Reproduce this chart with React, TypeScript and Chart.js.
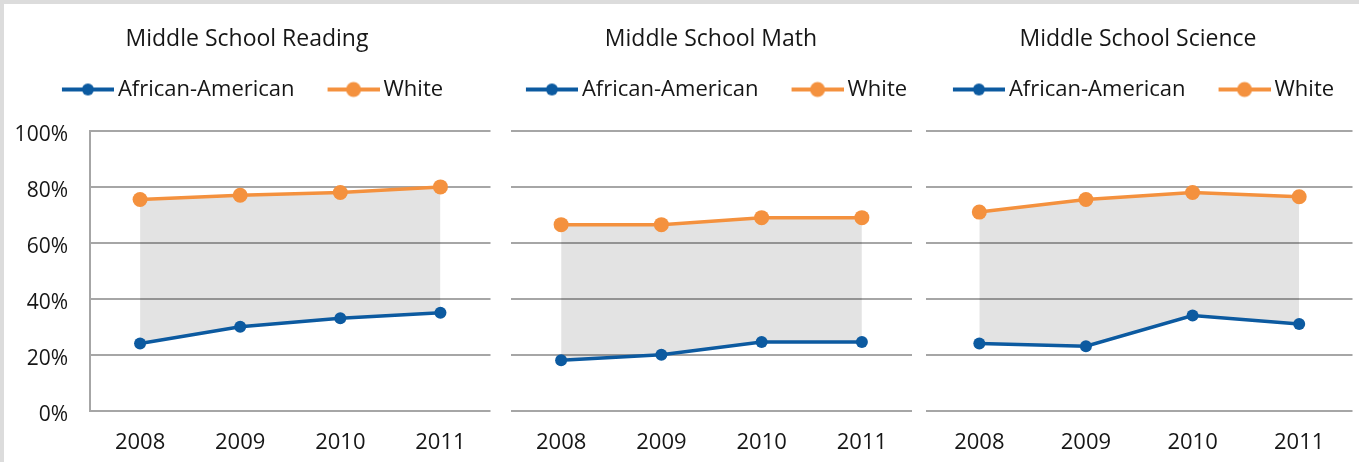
import React, { useEffect, useRef } from 'react';
import { Chart, registerables } from 'chart.js';

Chart.register(...registerables);

// ---- data ----
const years = ['2008', '2009', '2010', '2011'];
const seriesNames = ['African-American', 'White'];
const titles = ['Middle School Reading', 'Middle School Math', 'Middle School Science'];

const readingAA = [24, 30, 33, 35];
const readingWhite = [75.5, 77, 78, 80];
const mathAA = [18, 20, 24.5, 24.5];
const mathWhite = [66.5, 66.5, 69, 69];
const scienceAA = [24, 23, 34, 31];
const scienceWhite = [71, 75.5, 78, 76.5];

const yMin = 0;
const yMax = 100;
const yStep = 20;

// ---- style ----
const BLUE = '#0c5aa0';
const ORANGE = '#f4913e';
const FILL = 'rgba(0,0,0,0.11)';
const GRID = '#a6a6a6';
const TEXT = '#161616';
const FONT = "'Open Sans', 'Noto Sans', sans-serif";

function legendSymbol(color: string, radius: number) {
  const c = document.createElement('canvas');
  c.width = 70;
  c.height = 20;
  const ctx = c.getContext('2d')!;
  ctx.strokeStyle = color;
  ctx.lineWidth = 4;
  ctx.beginPath();
  ctx.moveTo(18, 10);
  ctx.lineTo(70, 10);
  ctx.stroke();
  ctx.fillStyle = color;
  ctx.beginPath();
  ctx.arc(44, 10, radius, 0, Math.PI * 2);
  ctx.fill();
  return c;
}

const legendGap = {
  id: 'legendGap',
  beforeLayout(chart: any) {
    const lg = chart.legend;
    if (lg && !lg._gapPatched) {
      const orig = lg.fit;
      lg.fit = function () {
        orig.call(this);
        this.height += 20.5;
      };
      lg._gapPatched = true;
    }
  },
};

type PanelProps = {
  title: string;
  aa: number[];
  white: number[];
  showY: boolean;
  left: number;
  width: number;
  yWidth: number;
  rWidth: number;
};

function Panel({ title, aa, white, showY, left, width, yWidth, rWidth }: PanelProps) {
  const ref = useRef<HTMLCanvasElement>(null);
  useEffect(() => {
    if (!ref.current) return;
    const symbols = [legendSymbol(BLUE, 6), legendSymbol(ORANGE, 7.5)];
    const chart = new Chart(ref.current, {
      type: 'line',
      data: {
        labels: years,
        datasets: [
          {
            label: seriesNames[0],
            data: aa,
            borderColor: BLUE,
            backgroundColor: BLUE,
            borderWidth: 3.5,
            pointRadius: 6,
            pointBackgroundColor: BLUE,
            pointBorderColor: BLUE,
            pointBorderWidth: 0,
            pointHoverRadius: 6,
            fill: false,
            tension: 0,
          },
          {
            label: seriesNames[1],
            data: white,
            borderColor: ORANGE,
            backgroundColor: FILL,
            borderWidth: 3.5,
            pointRadius: 7.5,
            pointBackgroundColor: ORANGE,
            pointBorderColor: ORANGE,
            pointBorderWidth: 0,
            pointHoverRadius: 7.5,
            fill: '-1',
            tension: 0,
          },
        ],
      },
      options: {
        animation: false,
        responsive: true,
        maintainAspectRatio: false,
        events: [],
        layout: { padding: { top: 0, bottom: 1, left: 0, right: 0 } },
        plugins: {
          tooltip: { enabled: false },
          title: {
            display: true,
            text: title,
            color: TEXT,
            font: { family: FONT, size: 23, weight: 'normal' },
            padding: { top: 25.5, bottom: 3.4 },
          },
          legend: {
            display: true,
            position: 'top',
            labels: {
              usePointStyle: true,
              pointStyleWidth: 56,
              padding: 22,
              color: TEXT,
              font: { family: FONT, size: 22 },
              generateLabels: (c: any) => {
                const items = (Chart as any).defaults.plugins.legend.labels.generateLabels(c);
                items.forEach((it: any, i: number) => {
                  it.pointStyle = symbols[i];
                  it.fontColor = TEXT;
                });
                return items;
              },
            },
          },
        },
        scales: {
          x: {
            offset: true,
            grid: { display: false, drawTicks: false },
            border: { display: false },
            ticks: {
              color: TEXT,
              font: { family: FONT, size: 22 },
              padding: 18.5,
              maxRotation: 0,
            },
          },
          y: {
            min: yMin,
            max: yMax,
            ticks: {
              display: showY,
              stepSize: yStep,
              color: TEXT,
              font: { family: FONT, size: 21 },
              padding: 22,
              labelOffset: 4,
              callback: (v: any) => `${v}%`,
            },
            grid: { color: GRID, lineWidth: 2, drawTicks: false },
            border: { display: showY, color: GRID, width: 2 },
            afterFit: (s: any) => {
              s.width = yWidth;
            },
          },
          yr: {
            type: 'linear',
            position: 'right',
            display: rWidth > 0,
            grid: { display: false, drawTicks: false },
            border: { display: false },
            ticks: { display: false },
            afterFit: (s: any) => {
              s.width = rWidth;
            },
          },
        },
      } as any,
      plugins: [legendGap],
    });
    return () => chart.destroy();
  }, []);
  return (
    <div style={{ position: 'absolute', left, top: 0, width, height: 475 }}>
      <canvas ref={ref} />
    </div>
  );
}

export default function App() {
  return (
    <div
      style={{
        position: 'fixed',
        left: 0,
        top: 0,
        width: 1359,
        height: 462,
        overflow: 'hidden',
        background: '#ffffff',
      }}
    >
      <div style={{ position: 'absolute', left: 0, top: 0, width: 1359, height: 4, background: '#dcdcdc' }} />
      <div style={{ position: 'absolute', left: 0, top: 0, width: 4, height: 462, background: '#dcdcdc' }} />
      <Panel title={titles[0]} aa={readingAA} white={readingWhite} showY={true} left={-4} width={502} yWidth={94} rWidth={0} />
      <Panel title={titles[1]} aa={mathAA} white={mathWhite} showY={false} left={490} width={442} yWidth={21} rWidth={20} />
      <Panel title={titles[2]} aa={scienceAA} white={scienceWhite} showY={false} left={916} width={444} yWidth={10} rWidth={0} />
    </div>
  );
}
